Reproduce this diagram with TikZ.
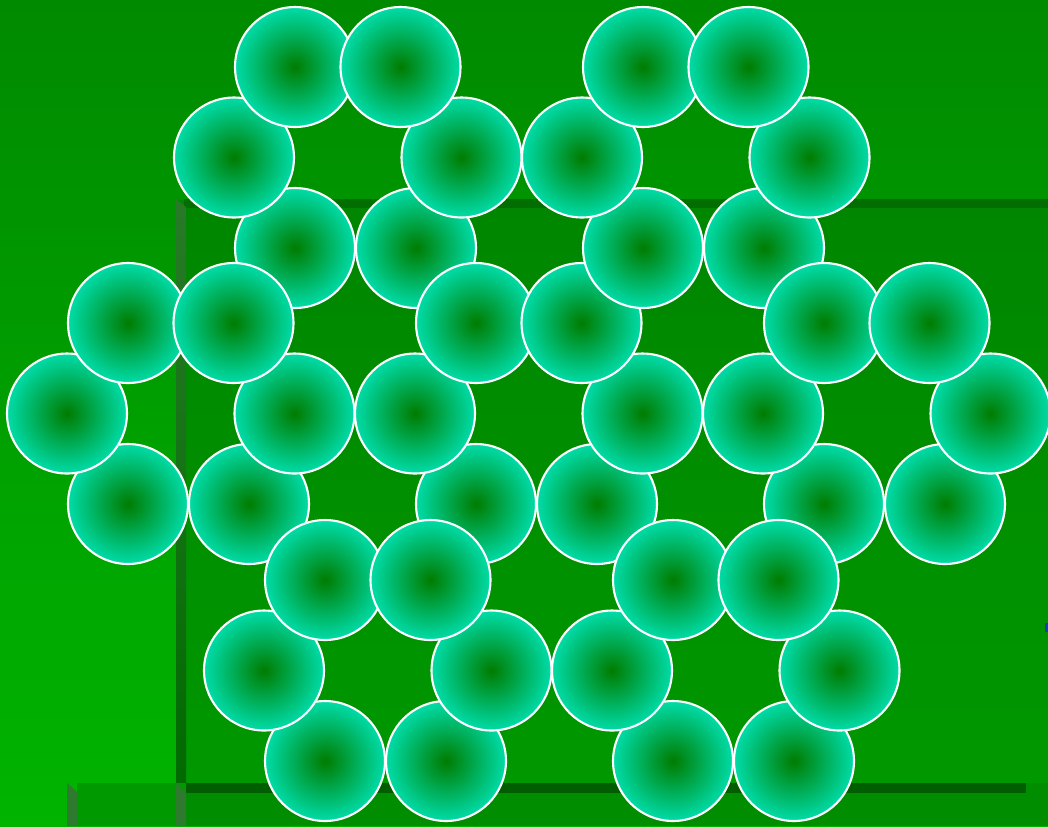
\documentclass[tikz,border=0pt]{standalone}
\usepackage{xcolor}
\usepackage{tikz}

\definecolor{bgTop}{RGB}{0,138,0}
\definecolor{bgBot}{RGB}{0,180,0}
\definecolor{panTop}{RGB}{0,134,0}
\definecolor{panBot}{RGB}{0,152,0}
\definecolor{panEdge}{RGB}{0,110,0}
\definecolor{bevTop}{RGB}{40,122,40}
\definecolor{bevBot}{RGB}{0,106,0}
\definecolor{bevGrey}{RGB}{46,122,46}
\definecolor{lowLeft}{RGB}{0,154,0}
\definecolor{lowRight}{RGB}{0,142,0}
\definecolor{lowEdge}{RGB}{0,94,0}
\definecolor{wireIn}{RGB}{0,124,0}
\definecolor{wireOut}{RGB}{0,220,168}
\definecolor{blueMark}{RGB}{16,64,192}

\begin{document}
\begin{tikzpicture}[
    x=0.02cm, y=-0.02cm,
    wire/.style={circle, draw=white, line width=1.2pt, minimum size=2.4cm,
                 inner sep=0pt, inner color=wireIn, outer color=wireOut},
  ]
    \useasboundingbox (0,0) rectangle (1048,826);

    % background and panels
    \shade[top color=bgTop, bottom color=bgBot] (0,0) rectangle (1048,826);
    \shade[top color=panTop, bottom color=panBot] (176,200) rectangle (1048,790);
    \fill[panEdge] (184,199) rectangle (1048,208);
    \shade[top color=bevTop, bottom color=bevBot]
        (176,199) -- (186,207) -- (186,790) -- (176,790) -- cycle;
    \fill[lowLeft]  (77,783)  rectangle (186,826);
    \fill[lowRight] (186,783) rectangle (1048,826);
    \fill[lowEdge]  (186,783) rectangle (1026,793);
    \fill[bevGrey]  (67,783) -- (77,792) -- (77,826) -- (67,826) -- cycle;
    \fill[bevGrey]  (176,783) -- (186,792) -- (186,826) -- (176,826) -- cycle;
    \fill[blueMark] (1045,623) rectangle (1048,632);

    % strand top left
    \node[wire] (a-bl) at (295,248)   {};
    \node[wire] (a-br) at (416,248)   {};
    \node[wire] (a-l)  at (234,157.5) {};
    \node[wire] (a-r)  at (461.5,157.5) {};
    \node[wire] (a-tl) at (295,67)    {};
    \node[wire] (a-tr) at (400.5,67)  {};

    % strand middle left
    \node[wire] (b-bl) at (128,504)   {};
    \node[wire] (b-br) at (249,504)   {};
    \node[wire] (b-l)  at (67,413.5)  {};
    \node[wire] (b-r)  at (294.5,413.5) {};
    \node[wire] (b-tl) at (128,323)   {};
    \node[wire] (b-tr) at (233.5,323) {};

    % strand centre
    \node[wire] (c-bl) at (476,504)   {};
    \node[wire] (c-br) at (597,504)   {};
    \node[wire] (c-l)  at (415,413.5) {};
    \node[wire] (c-r)  at (642.5,413.5) {};
    \node[wire] (c-tl) at (476,323)   {};
    \node[wire] (c-tr) at (581.5,323) {};

    % strand top right
    \node[wire] (d-bl) at (643,248)   {};
    \node[wire] (d-br) at (764,248)   {};
    \node[wire] (d-l)  at (582,157.5) {};
    \node[wire] (d-r)  at (809.5,157.5) {};
    \node[wire] (d-tl) at (643,67)    {};
    \node[wire] (d-tr) at (748.5,67)  {};

    % strand middle right
    \node[wire] (e-bl) at (824,504)   {};
    \node[wire] (e-br) at (945,504)   {};
    \node[wire] (e-l)  at (763,413.5) {};
    \node[wire] (e-r)  at (990.5,413.5) {};
    \node[wire] (e-tl) at (824,323)   {};
    \node[wire] (e-tr) at (929.5,323) {};

    % strand bottom left
    \node[wire] (f-bl) at (325,761)   {};
    \node[wire] (f-br) at (446,761)   {};
    \node[wire] (f-l)  at (264,670.5) {};
    \node[wire] (f-r)  at (491.5,670.5) {};
    \node[wire] (f-tl) at (325,580)   {};
    \node[wire] (f-tr) at (430.5,580) {};

    % strand bottom right
    \node[wire] (g-bl) at (673,761)   {};
    \node[wire] (g-br) at (794,761)   {};
    \node[wire] (g-l)  at (612,670.5) {};
    \node[wire] (g-r)  at (839.5,670.5) {};
    \node[wire] (g-tl) at (673,580)   {};
    \node[wire] (g-tr) at (778.5,580) {};
\end{tikzpicture}
\end{document}
